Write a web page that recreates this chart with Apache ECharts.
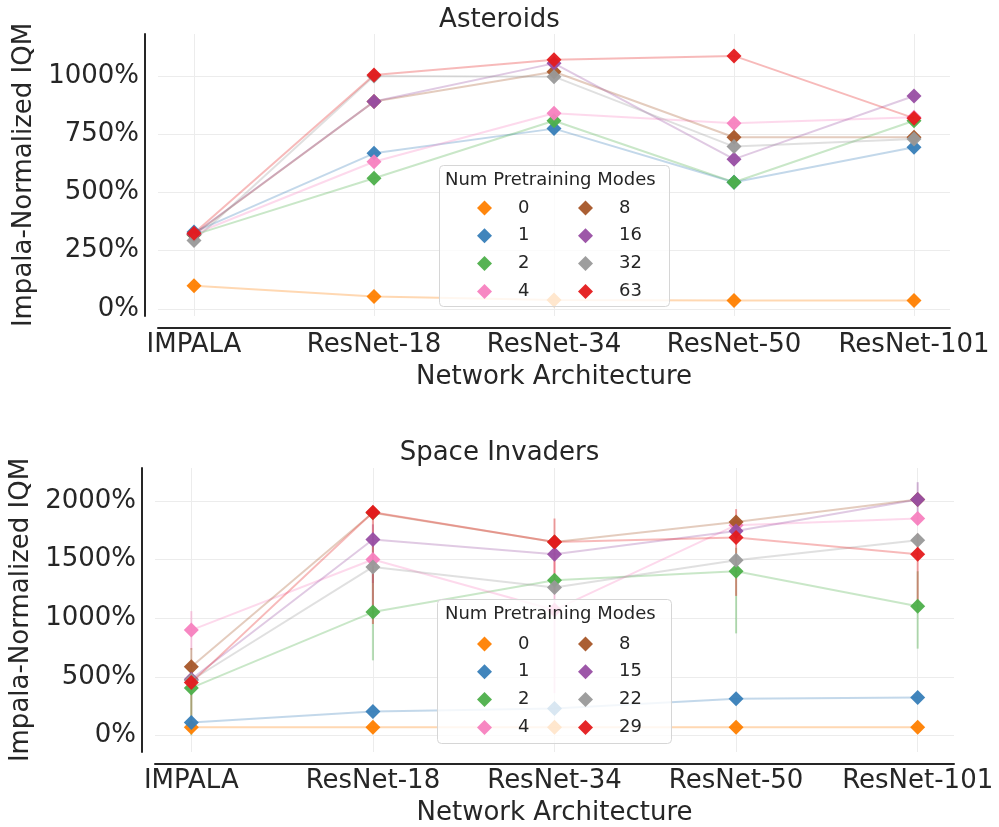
<!DOCTYPE html>
<html>
<head>
<meta charset="utf-8">
<script src="https://cdn.jsdelivr.net/npm/echarts@6/dist/echarts.min.js"></script>
<style>
html,body{margin:0;padding:0;background:#fff;}
#chart{width:999px;height:827px;}
</style>
</head>
<body>
<div id="chart"></div>
<script>
// ---- data ----
const categories = ['IMPALA', 'ResNet-18', 'ResNet-34', 'ResNet-50', 'ResNet-101'];

// Asteroids (percent)
const modesA = ['0', '1', '2', '4', '8', '16', '32', '63'];
const astMode0  = [100, 54, 39, 36, 36];
const astMode1  = [330, 668, 774, 544, 694];
const astMode2  = [318, 561, 808, 544, 808];
const astMode4  = [322, 632, 840, 797, 823];
const astMode8  = [320, 890, 1018, 737, 737];
const astMode16 = [322, 890, 1054, 643, 914];
const astMode32 = [294, 1000, 997, 697, 729];
const astMode63 = [325, 1004, 1069, 1086, 819];

// Space Invaders (percent)
const modesS = ['0', '1', '2', '4', '8', '15', '22', '29'];
const spMode0  = [70, 70, 70, 70, 70];
const spMode1  = [109, 204, 230, 312, 324];
const spMode2  = [405, 1052, 1324, 1401, 1102];
const spMode4  = [898, 1500, 1070, 1793, 1850];
const spMode8  = [585, 1900, 1650, 1821, 2012];
const spMode15 = [478, 1671, 1545, 1744, 2012];
const spMode22 = [470, 1437, 1262, 1494, 1665];
const spMode29 = [450, 1904, 1650, 1688, 1546];

// Space Invaders error bars [low, high] (null = not visible)
const spErr2  = [[0, 450], [640, 1450], null, [870, 1600], [740, 1400]];
const spErr4  = [[730, 1060], null, [360, 1610], null, null];
const spErr8  = [[80, 745], null, null, null, null];
const spErr15 = [null, [1300, 1800], null, null, [1800, 2160]];
const spErr22 = [null, [1100, 1650], null, null, null];
const spErr29 = [null, [950, 1950], [1220, 1850], [1190, 1930], [1130, 1720]];

const yTicksA = [0, 250, 500, 750, 1000];
const yTicksS = [0, 500, 1000, 1500, 2000];

// ---- styling ----
const palette = ['#ff7f00', '#377eb8', '#4daf4a', '#f781bf', '#a65628', '#984ea3', '#999999', '#e41a1c'];
const FONT = 'DejaVu Sans';
const TXT = '#262626';

const astSeries = [astMode0, astMode1, astMode2, astMode4, astMode8, astMode16, astMode32, astMode63];
const spSeries = [spMode0, spMode1, spMode2, spMode4, spMode8, spMode15, spMode22, spMode29];
const spErrs = [null, null, spErr2, spErr4, spErr8, spErr15, spErr22, spErr29];

function catFmt(v) {
  const r = Math.round(v);
  return Math.abs(v - r) < 1e-6 && categories[r] !== undefined ? categories[r] : '';
}
function pctFmt(ticks) {
  return function (v) {
    return ticks.indexOf(Math.round(v)) >= 0 && Math.abs(v - Math.round(v)) < 1e-6 ? Math.round(v) + '%' : '';
  };
}

function makeX(gridIndex, offset) {
  return {
    type: 'value', gridIndex: gridIndex, min: -0.2, max: 4.2, minInterval: 1, maxInterval: 1,
    offset: offset,
    name: 'Network Architecture', nameLocation: 'middle', nameGap: 36,
    nameTextStyle: { fontFamily: FONT, fontSize: 26, color: TXT },
    axisLine: { show: true, onZero: false, lineStyle: { color: TXT, width: 2 } },
    axisTick: { show: false },
    axisLabel: { formatter: catFmt, fontFamily: FONT, fontSize: 26, color: TXT, margin: 4, showMinLabel: false, showMaxLabel: false },
    splitLine: { show: true, showMinLine: false, showMaxLine: false, lineStyle: { color: '#ececec', width: 1 } }
  };
}
function makeY(gridIndex, min, max, step, ticks, offset, gap) {
  return {
    type: 'value', gridIndex: gridIndex, min: min, max: max, minInterval: step, maxInterval: step,
    offset: offset,
    name: 'Impala-Normalized IQM', nameLocation: 'middle', nameGap: gap,
    nameTextStyle: { fontFamily: FONT, fontSize: 26, color: TXT },
    axisLine: { show: true, onZero: false, lineStyle: { color: TXT, width: 2 } },
    axisTick: { show: false },
    axisLabel: { formatter: pctFmt(ticks), fontFamily: FONT, fontSize: 26, color: TXT, margin: 6, showMinLabel: false, showMaxLabel: false },
    splitLine: { show: true, showMinLine: false, showMaxLine: false, lineStyle: { color: '#ececec', width: 1 } }
  };
}

const series = [];
function addLines(names, arrs, axisIdx) {
  arrs.forEach(function (arr, k) {
    series.push({
      name: names[k], type: 'line', xAxisIndex: axisIdx, yAxisIndex: axisIdx,
      data: arr.map(function (v, i) { return [i, v]; }),
      symbol: 'diamond', symbolSize: 15,
      itemStyle: { color: palette[k], opacity: 0.95 },
      lineStyle: { color: palette[k], width: 2, opacity: 0.3 },
      z: 3 + k, silent: true, animation: false
    });
  });
}
function addErr(errs, axisIdx) {
  errs.forEach(function (err, k) {
    if (!err) return;
    const d = [];
    err.forEach(function (e, i) { if (e) d.push([i, e[0], e[1]]); });
    series.push({
      type: 'custom', xAxisIndex: axisIdx, yAxisIndex: axisIdx, data: d, silent: true, animation: false, z: 2,
      renderItem: function (params, api) {
        const p1 = api.coord([api.value(0), api.value(1)]);
        const p2 = api.coord([api.value(0), api.value(2)]);
        return { type: 'line', shape: { x1: p1[0], y1: p1[1], x2: p2[0], y2: p2[1] },
                 style: { stroke: palette[k], lineWidth: 2, opacity: 0.4 } };
      }
    });
  });
}
addErr(spErrs, 1);
addLines(modesA, astSeries, 0);
addLines(modesS, spSeries, 1);

function legendCol(names, left, top) {
  return {
    data: names.map(function (n) { return { name: n, icon: 'diamond' }; }),
    orient: 'vertical', left: left, top: top, padding: 0,
    itemWidth: 15, itemHeight: 15, itemGap: 9.8, z: 60,
    selectedMode: false,
    textStyle: { fontFamily: FONT, fontSize: 18, color: TXT, lineHeight: 15, padding: [0, 0, 0, 21] }
  };
}

function legendBox(x, y, w, h) {
  return [
    { type: 'rect', left: x, top: y, z: 50, silent: true,
      shape: { width: w, height: h, r: 4 },
      style: { fill: 'rgba(255,255,255,0.8)', stroke: '#d6d6d6', lineWidth: 1 } },
    { type: 'text', left: x + w / 2 - 109, top: y + 6, z: 55, silent: true,
      style: { text: 'Num Pretraining Modes', font: '18px "DejaVu Sans"', fill: TXT } }
  ];
}

const chart = echarts.init(document.getElementById('chart'), null, { renderer: 'canvas' });
chart.setOption({
  backgroundColor: '#ffffff',
  animation: false,
  title: [
    { text: 'Asteroids', left: 'center', top: 7, padding: 0, textStyle: { fontFamily: FONT, fontSize: 26, fontWeight: 'normal', color: TXT } },
    { text: 'Space Invaders', left: 'center', top: 440, padding: 0, textStyle: { fontFamily: FONT, fontSize: 26, fontWeight: 'normal', color: TXT } }
  ],
  grid: [
    { left: 158, right: 49, top: 34, height: 282 },
    { left: 155, right: 45, top: 468, height: 284 }
  ],
  xAxis: [makeX(0, 12), makeX(1, 12)],
  yAxis: [makeY(0, -30, 1180, 250, yTicksA, 13, 100), makeY(1, -142, 2281, 500, yTicksS, 13, 102)],
  legend: [
    legendCol(modesA.slice(0, 4), 477, 199),
    legendCol(modesA.slice(4), 578, 199),
    legendCol(modesS.slice(0, 4), 477, 635),
    legendCol(modesS.slice(4), 578, 635)
  ],
  graphic: legendBox(439, 165, 230, 141).concat(legendBox(437, 599, 234, 144)),
  series: series
});
</script>
</body>
</html>
